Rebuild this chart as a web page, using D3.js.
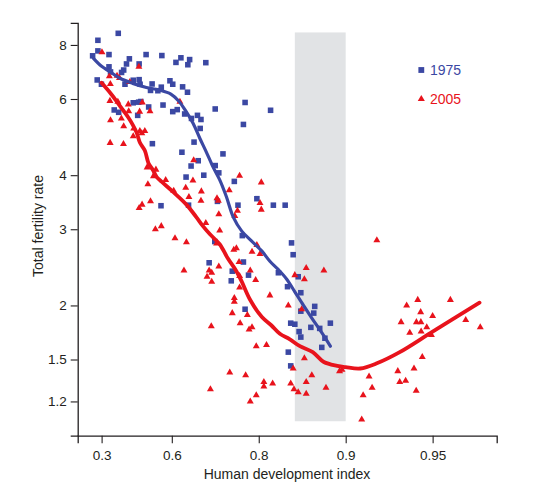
<!DOCTYPE html>
<html>
<head>
<meta charset="utf-8">
<script src="https://cdn.jsdelivr.net/npm/d3@7"></script>
<style>
  html, body { margin: 0; padding: 0; background: #fff; }
  svg { display: block; font-family: "Liberation Sans", Arial, Helvetica, sans-serif; }
</style>
</head>
<body>
<svg id="chart" width="559" height="487"></svg>
<script>
// ---- Data ----
const xTickValues = [0.3, 0.6, 0.8, 0.9, 0.95];
const xTickLabels = ["0.3", "0.6", "0.8", "0.9", "0.95"];
const yTickValues = [8, 6, 4, 3, 2, 1.5, 1.2];
const yTickLabels = ["8", "6", "4", "3", "2", "1.5", "1.2"];
const seriesNames = ["1975", "2005"];
const bandHdi = [0.85, 0.90];
const bandTfr = [1.08, 8.55];

const hdi1975 = [0.279,0.387,0.248,0.279,0.340,0.439,0.509,0.567,0.613,0.628,0.653,0.648,0.695,0.481,0.426,0.413,0.403,0.340,0.348,0.275,
  0.299,0.419,0.456,0.481,0.485,0.532,0.526,0.553,0.565,0.594,0.603,0.633,0.647,0.571,0.456,0.479,0.488,0.519,0.475,0.367,
  0.389,0.603,0.617,0.639,0.658,0.674,0.683,0.681,0.717,0.777,0.818,0.774,0.533,0.631,0.665,0.676,0.734,0.717,0.725,0.657,
  0.643,0.690,0.757,0.797,0.822,0.838,0.564,0.650,0.722,0.764,0.772,0.716,0.846,0.848,0.703,0.774,0.753,0.783,0.751,0.829,
  0.854,0.841,0.857,0.777,0.872,0.871,0.857,0.845,0.850,0.855,0.857,0.868,0.877,0.887,0.882,0.879,0.842,0.845];
const tfr1975 = [8.20,8.51,7.55,7.75,7.60,7.43,7.60,7.56,7.29,7.47,7.40,7.20,7.28,7.23,7.23,7.00,6.91,7.12,6.93,6.64,
  6.49,6.49,6.63,6.65,6.49,6.50,6.28,6.27,6.39,6.61,6.49,6.40,6.22,5.81,5.88,5.90,5.92,5.75,5.50,5.66,
  5.59,5.61,5.67,5.54,5.41,5.50,5.38,5.13,5.69,5.89,5.65,5.24,4.73,4.52,4.77,4.32,4.48,4.21,4.05,4.20,
  3.96,4.00,3.87,3.53,3.41,3.41,3.40,3.41,3.48,3.41,2.90,2.81,2.79,2.62,2.51,2.52,2.40,2.35,2.28,2.38,
  2.33,2.21,2.14,1.96,1.99,1.92,1.94,1.82,1.81,1.74,1.69,1.78,1.77,1.82,1.68,1.60,1.56,1.45];

const hdi2005 = [0.302,0.480,0.342,0.381,0.393,0.441,0.347,0.625,0.345,0.385,0.434,0.494,0.348,0.402,0.436,0.483,0.524,0.413,0.458,0.484,
  0.504,0.492,0.456,0.346,0.412,0.513,0.546,0.537,0.580,0.516,0.606,0.642,0.664,0.662,0.684,0.651,0.683,0.526,0.493,0.481,
  0.565,0.544,0.610,0.644,0.637,0.695,0.727,0.720,0.725,0.703,0.709,0.698,0.709,0.767,0.804,0.747,0.721,0.724,0.802,0.804,
  0.763,0.758,0.725,0.756,0.761,0.797,0.789,0.802,0.766,0.786,0.767,0.795,0.863,0.881,0.850,0.861,0.767,0.817,0.757,0.757,
  0.753,0.781,0.768,0.784,0.789,0.708,0.796,0.812,0.842,0.858,0.861,0.848,0.869,0.863,0.748,0.778,0.808,0.821,0.808,0.706,
  0.796,0.786,0.845,0.849,0.854,0.863,0.883,0.895,0.897,0.912,0.913,0.917,0.919,0.934,0.935,0.938,0.942,0.9457,0.943,0.922,
  0.9385,0.9437,0.945,0.950,0.9357,0.9431,0.9451,0.940,0.9476,0.9452,0.9495,0.9566,0.9616,0.9658];
const tfr2005 = [7.69,7.12,6.77,6.79,6.71,6.57,6.50,5.91,5.94,5.91,5.83,5.89,5.36,5.41,5.62,5.61,5.62,5.19,5.13,5.06,
  5.06,5.00,4.92,4.75,4.72,4.17,4.12,3.98,3.90,3.81,3.68,3.74,4.33,3.89,3.67,3.56,3.49,3.48,3.42,3.36,
  3.05,3.00,2.86,2.80,2.41,3.10,2.98,2.78,2.46,2.41,2.38,2.33,2.27,3.99,3.85,3.69,3.54,3.49,3.45,3.33,
  3.31,3.22,3.25,2.69,2.71,2.76,2.66,2.63,2.52,2.41,2.34,2.29,2.44,2.41,2.35,2.30,2.20,2.11,2.08,2.04,
  1.92,1.90,1.82,1.76,1.78,1.79,1.61,1.62,2.00,1.96,1.51,1.43,1.38,1.33,1.40,1.38,1.33,1.32,1.30,1.28,
  1.24,1.20,1.32,1.28,1.26,1.25,1.29,1.41,1.42,1.09,1.24,1.37,1.29,1.41,1.33,1.34,1.43,1.52,1.27,2.83,
  2.00,2.06,1.93,1.89,1.83,1.83,1.83,1.73,1.78,1.74,1.71,2.06,1.85,1.78];

const trendHdi1975 = [0.253,0.300,0.345,0.395,0.454,0.510,0.560,0.597,0.622,0.642,0.662,0.680,0.696,0.712,0.727,0.741,0.755,0.771,0.788,0.805,0.817,0.829,0.840,0.850,0.860,0.869,0.879,0.887];
const trendTfr1975 = [7.45,7.14,6.94,6.70,6.52,6.38,6.29,6.16,5.93,5.63,5.28,4.87,4.53,4.18,3.90,3.57,3.20,2.97,2.82,2.67,2.53,2.42,2.30,2.15,2.00,1.87,1.73,1.61];

const trendHdi2005 = [0.300,0.350,0.380,0.409,0.432,0.454,0.471,0.484,0.504,0.518,0.535,0.549,0.567,0.606,0.644,0.671,0.688,0.705,0.727,0.744,0.761,0.771,0.785,0.805,0.819,0.831,0.844,0.856,0.870,0.881,0.893,0.900,0.911,0.922,0.935,0.950,0.9656];
const trendTfr2005 = [6.54,6.17,5.92,5.66,5.46,5.23,5.01,4.76,4.56,4.27,4.11,3.96,3.86,3.65,3.42,3.20,3.05,2.92,2.77,2.57,2.40,2.27,2.07,1.88,1.80,1.72,1.67,1.61,1.56,1.48,1.45,1.44,1.43,1.47,1.56,1.74,2.03];

// ---- Drawing ----
const blue = "#3b48a3";
const red = "#e8131c";
const ink = "#231f20";

const svg = d3.select("#chart");
svg.append("rect").attr("width", 559).attr("height", 487).attr("fill", "#fff");

// x: log scale on (1 - HDI)
const xLog = d3.scaleLog().domain([0.847, 0.030]).range([77.7, 496.7]);
const x = h => xLog(1 - h);
const y = d3.scaleLog().domain([1.0, 9.0]).range([435.7, 22.8]);

// Shaded band
svg.append("rect")
  .attr("x", x(bandHdi[0]))
  .attr("y", y(bandTfr[1]))
  .attr("width", x(bandHdi[1]) - x(bandHdi[0]))
  .attr("height", y(bandTfr[0]) - y(bandTfr[1]))
  .attr("fill", "#e1e3e5");

// Axes
const xAxis = d3.axisBottom(xLog)
  .tickValues(xTickValues.map(h => 1 - h))
  .tickFormat((d, i) => xTickLabels[i])
  .tickSizeOuter(0).tickSize(7.5).tickPadding(4);
const gx = svg.append("g").attr("transform", "translate(0,435.7)").call(xAxis);

const yAxis = d3.axisLeft(y)
  .tickValues(yTickValues)
  .tickFormat((d, i) => yTickLabels[i])
  .tickSizeOuter(0).tickSize(7).tickPadding(4);
const gy = svg.append("g").attr("transform", "translate(77.7,0)").call(yAxis);

[gx, gy].forEach(g => {
  g.select(".domain").attr("stroke", ink).attr("stroke-width", 1.3);
  g.selectAll(".tick line").attr("stroke", ink).attr("stroke-width", 1.1);
  g.selectAll(".tick text").attr("fill", ink).style("font-size", "13.5px")
    .style("font-family", '"Liberation Sans", Arial, sans-serif');
});
gx.selectAll(".tick text").attr("dy", "0.95em");

// Axis titles
svg.append("text")
  .attr("x", 287).attr("y", 479)
  .attr("text-anchor", "middle")
  .attr("fill", ink).style("font-size", "14px")
  .text("Human development index");
svg.append("text")
  .attr("transform", "translate(43,226) rotate(-90)")
  .attr("text-anchor", "middle")
  .attr("fill", ink).style("font-size", "14px")
  .text("Total fertility rate");

// Points
const d1975 = hdi1975.map((h, i) => ({h, t: tfr1975[i]}));
const d2005 = hdi2005.map((h, i) => ({h, t: tfr2005[i]}));
const sq = d3.symbol().type(d3.symbolSquare).size(31);
const tri = d3.symbol().type(d3.symbolTriangle).size(21);

svg.append("g").selectAll("path").data(d1975).join("path")
  .attr("d", sq)
  .attr("transform", d => `translate(${x(d.h)},${y(d.t)})`)
  .attr("fill", blue);

svg.append("g").selectAll("path").data(d2005).join("path")
  .attr("d", tri)
  .attr("transform", d => `translate(${x(d.h)},${y(d.t)})`)
  .attr("fill", red);

// Trend lines
const line = d3.line().x(d => x(d.h)).y(d => y(d.t)).curve(d3.curveCatmullRom.alpha(0.5));
svg.append("path")
  .datum(trendHdi1975.map((h, i) => ({h, t: trendTfr1975[i]})))
  .attr("d", line).attr("fill", "none")
  .attr("stroke", blue).attr("stroke-width", 3.2).attr("stroke-linejoin", "round").attr("stroke-linecap", "round");
svg.append("path")
  .datum(trendHdi2005.map((h, i) => ({h, t: trendTfr2005[i]})))
  .attr("d", line).attr("fill", "none")
  .attr("stroke", red).attr("stroke-width", 3.8).attr("stroke-linejoin", "round").attr("stroke-linecap", "round");

// Legend
const legend = svg.append("g");
const legItems = [
  {name: seriesNames[0], color: blue, sym: d3.symbol().type(d3.symbolSquare).size(34), cy: 70},
  {name: seriesNames[1], color: red, sym: d3.symbol().type(d3.symbolTriangle).size(22), cy: 99}
];
legItems.forEach(it => {
  legend.append("path").attr("d", it.sym).attr("transform", `translate(421.3,${it.cy})`).attr("fill", it.color);
  legend.append("text").attr("x", 430).attr("y", it.cy + 5)
    .attr("fill", it.color).style("font-size", "14px").text(it.name);
});
</script>
</body>
</html>
